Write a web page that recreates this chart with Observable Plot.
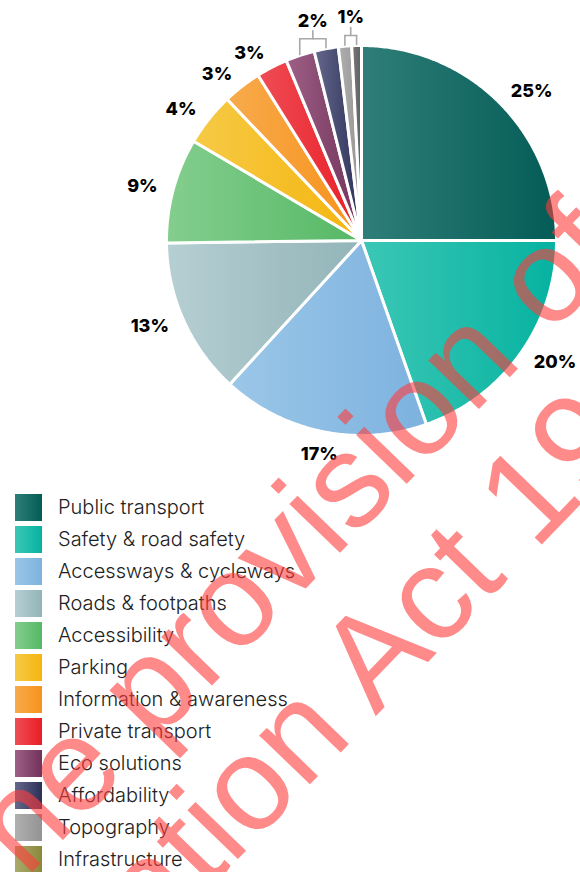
<!DOCTYPE html>
<html>
<head>
<meta charset="utf-8">
<script src="https://cdn.jsdelivr.net/npm/d3@7"></script>
<script src="https://cdn.jsdelivr.net/npm/@observablehq/plot@0.6"></script>
<style>
  html, body { margin: 0; padding: 0; background: #fff; }
  body { width: 580px; height: 872px; overflow: hidden; position: relative; font-family: Inter, "Noto Sans", sans-serif; }
  #chart svg { display: block; }
  #legend { position: absolute; left: 15px; top: 491px; }
  .row { display: flex; align-items: center; height: 32px; }
  .sw { width: 27px; height: 27px; margin-right: 16px; flex: none; }
  .lab { font-size: 20px; font-weight: 300; color: #222; white-space: nowrap; line-height: 27px; }
  #wm { position: absolute; left: 0; top: 0; pointer-events: none; }
</style>
</head>
<body>
<div id="chart"></div>
<div id="legend"></div>
<svg id="wm" width="580" height="872"></svg>
<script>
// ---- data ----
const categories = ["Public transport", "Safety & road safety", "Accessways & cycleways", "Roads & footpaths",
  "Accessibility", "Parking", "Information & awareness", "Private transport", "Eco solutions",
  "Affordability", "Topography", "Infrastructure"];
const values = [25.0, 19.6, 17.2, 13.0, 8.7, 4.4, 3.2, 2.6, 2.4, 2.0, 1.1, 0.8];
const labels = ["25%", "20%", "17%", "13%", "9%", "4%", "3%", "3%", "2%", "2%", "1%", "1%"];
const bracketGroups = [[8, 9], [10, 11]];

// ---- styles ----
const gradFrom = ["#2f7e79", "#3cc7b6", "#9bc7e8", "#b6cfd3", "#84ce8e", "#f6ca46", "#f7ab4c", "#ef4d56", "#9e6086", "#65688b", "#b0b0b0", "#7a7a7a"];
const gradTo   = ["#045c56", "#06b2a0", "#7db2df", "#92b4b8", "#55b865", "#f5b50e", "#f7921c", "#e91d25", "#72325b", "#2c3058", "#939393", "#5f5f5f"];
const legendFrom = gradFrom.slice(0, 11).concat(["#aaaa6c"]);
const legendTo   = gradTo.slice(0, 11).concat(["#8a883a"]);

// ---- layout ----
const W = 580, H = 476, CX = 361, CY = 240, R = 195;
const px = v => v / R;

const total = d3.sum(values);
let acc = 0;
const slices = categories.map((name, i) => {
  const a0 = acc / total * 2 * Math.PI; acc += values[i];
  const a1 = acc / total * 2 * Math.PI;
  return { i, name, a0, a1, mid: (a0 + a1) / 2 };
});
const wedge = s => {
  const n = Math.max(3, Math.ceil((s.a1 - s.a0) / 0.01));
  const pts = [{ x: 0, y: 0 }];
  for (let j = 0; j <= n; j++) {
    const a = s.a0 + (s.a1 - s.a0) * j / n;
    pts.push({ x: Math.sin(a), y: Math.cos(a) });
  }
  pts.push({ x: 0, y: 0 });
  return pts;
};

const grouped = new Set(bracketGroups.flat());
const rLab = px(211);
const singleLabels = slices.filter(s => !grouped.has(s.i)).map(s => {
  const sx = Math.sin(s.mid), cy = Math.cos(s.mid);
  const side = sx > 0.3 ? "start" : sx < -0.3 ? "end" : "middle";
  const va = side !== "middle" ? "middle" : (cy < 0 ? "top" : "bottom");
  return { x: rLab * sx, y: rLab * cy, text: labels[s.i], side, va };
});

const bracketLines = [];
const groupLabels = [];
bracketGroups.forEach((g, gi) => {
  const legs = g.map(i => {
    const m = slices[i].mid, r = 1 + px(1);
    return { x: r * Math.sin(m), y: r * Math.cos(m) };
  });
  const yh = d3.max(legs, d => d.y) + px(9);
  const xm = d3.mean(legs, d => d.x);
  legs.forEach(l => bracketLines.push([{ x: l.x, y: l.y }, { x: l.x, y: yh }]));
  bracketLines.push([{ x: legs[0].x, y: yh }, { x: legs[legs.length - 1].x, y: yh }]);
  bracketLines.push([{ x: xm, y: yh }, { x: xm, y: yh + px(8) }]);
  groupLabels.push({ x: xm, y: yh + px(8) + px(10), text: labels[g[0]] });
});

const labelStyle = { x: "x", y: "y", text: "text", fontSize: 18, fontWeight: 800, fill: "#000", fontFamily: "Inter, sans-serif" };
const textMarks = [];
for (const side of ["start", "end", "middle"]) {
  for (const va of ["middle", "top", "bottom"]) {
    const sub = singleLabels.filter(d => d.side === side && d.va === va);
    if (sub.length) textMarks.push(Plot.text(sub, { ...labelStyle, textAnchor: side, lineAnchor: va }));
  }
}

const chart = Plot.plot({
  width: W, height: H,
  margin: 0,
  x: { domain: [-CX / R, (W - CX) / R], axis: null },
  y: { domain: [-(H - CY) / R, CY / R], axis: null },
  style: { fontFamily: "Inter, sans-serif", background: "transparent" },
  marks: [
    ...slices.map(s => Plot.line(wedge(s), {
      x: "x", y: "y", fill: `url(#grad${s.i})`, stroke: "white", strokeWidth: 3, strokeLinejoin: "round"
    })),
    ...bracketLines.map(seg => Plot.line(seg, { x: "x", y: "y", stroke: "#a8a8a8", strokeWidth: 1.6 })),
    ...textMarks,
    Plot.text(groupLabels, { ...labelStyle, lineAnchor: "middle" })
  ]
});

const defs = d3.select(chart).insert("defs", ":first-child");
slices.forEach(s => {
  const lg = defs.append("linearGradient").attr("id", `grad${s.i}`).attr("x1", 0).attr("x2", 1).attr("y1", 0).attr("y2", 0);
  lg.append("stop").attr("offset", 0).attr("stop-color", gradFrom[s.i]);
  lg.append("stop").attr("offset", 1).attr("stop-color", gradTo[s.i]);
});
document.getElementById("chart").appendChild(chart);

// legend
const legend = d3.select("#legend");
categories.forEach((c, i) => {
  const row = legend.append("div").attr("class", "row");
  row.append("div").attr("class", "sw").style("background", `linear-gradient(to right, ${legendFrom[i]}, ${legendTo[i]})`);
  row.append("div").attr("class", "lab").text(c);
});

// watermark overlay
const wmLines = [
  { text: "Released under the provision of the", skip: 15, x: 0, y: 905 },
  { text: "Official Information Act 1982", skip: 16, x: 206, y: 892 }
];
const wm = d3.select("#wm");
wmLines.forEach(l => {
  const t = wm.append("text")
    .attr("font-family", "'Liberation Sans', Arial, sans-serif")
    .attr("font-size", 133)
    .attr("fill", "#ff3c3c").attr("fill-opacity", 0.6)
    .text(l.text);
  const off = t.node().getSubStringLength(0, l.skip);
  t.attr("x", -off).attr("transform", `translate(${l.x},${l.y}) rotate(-46)`);
});
</script>
</body>
</html>
